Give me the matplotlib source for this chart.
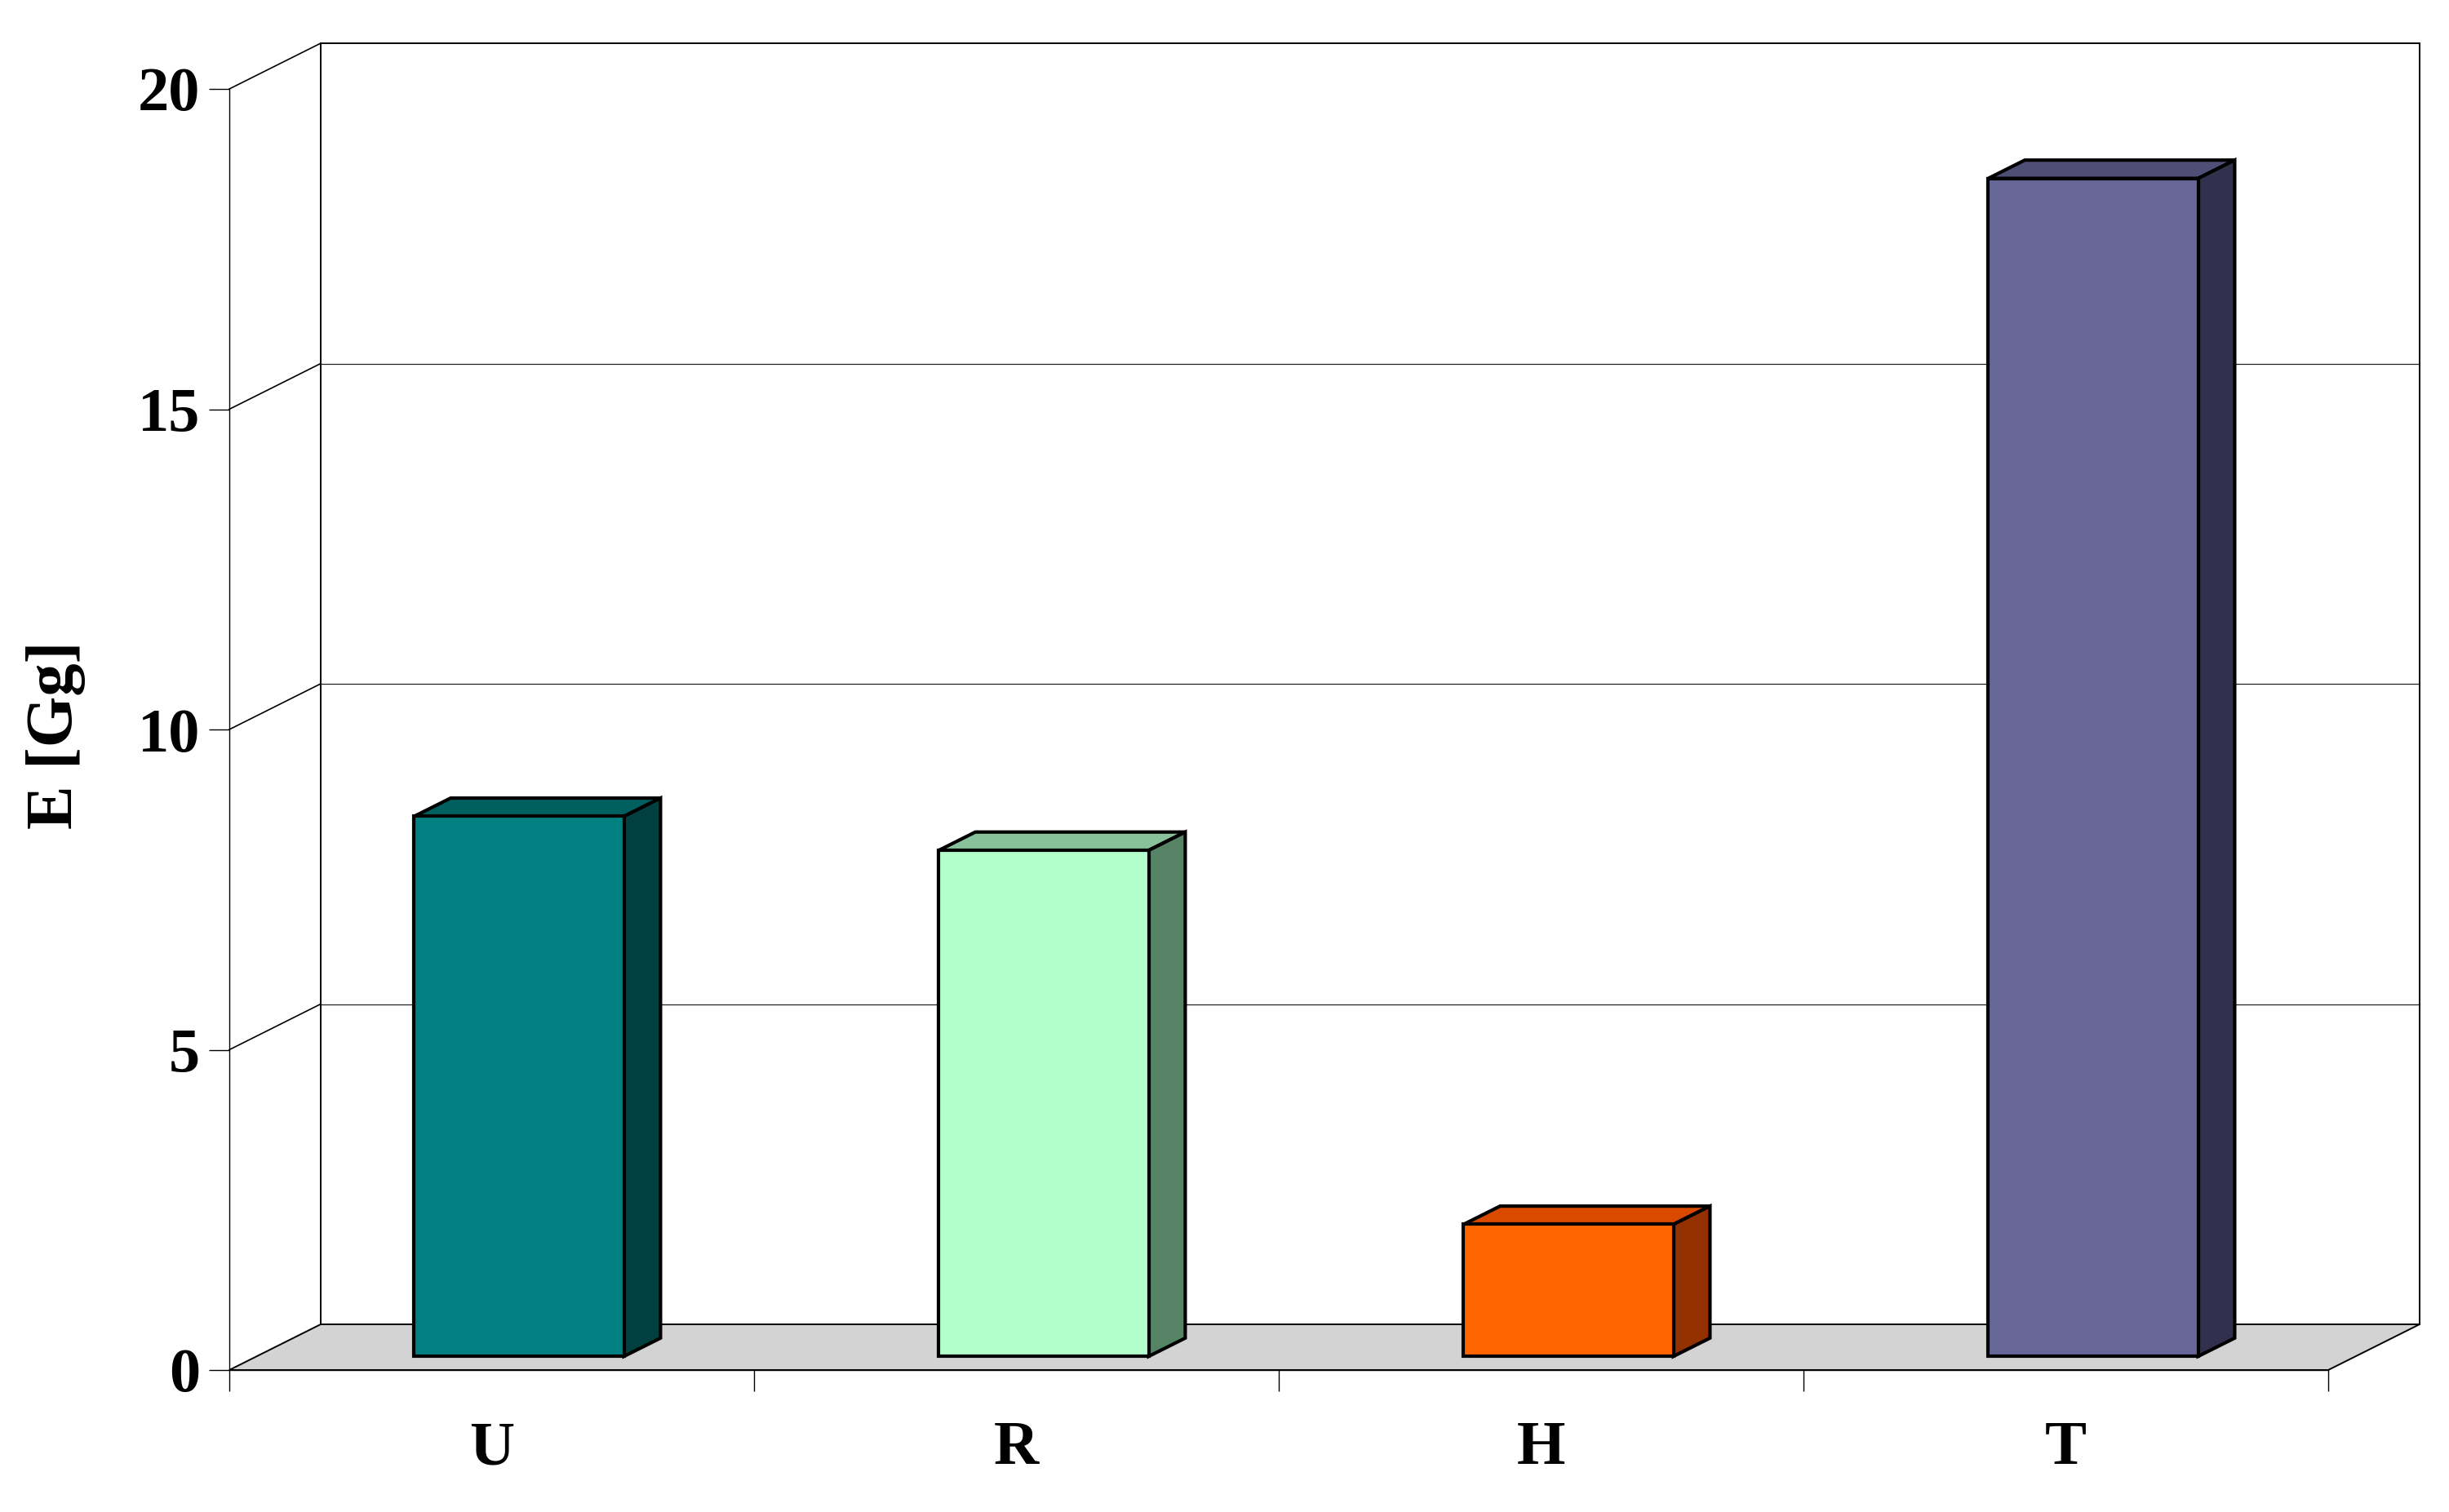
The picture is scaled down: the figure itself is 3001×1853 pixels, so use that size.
import matplotlib
matplotlib.use("Agg")
import matplotlib.pyplot as plt
from matplotlib.patches import Polygon, Rectangle

categories = ["U", "R", "H", "T"]
values = [8.43, 7.90, 2.06, 18.39]
face_colors = ["#008080", "#B3FFCC", "#FF6600", "#666699"]
top_colors = ["#006060", "#87C29A", "#D94A00", "#4F4F75"]
side_colors = ["#004040", "#568265", "#933000", "#31314D"]
yticks = [0, 5, 10, 15, 20]

# oblique depth offset of the whole floor, in data units
DX = 0.174
DY = 0.713
Z0, Z1 = 0.3, 0.7
BAR_W = 0.4

plt.rcParams["font.family"] = ["Liberation Serif", "DejaVu Serif"]
plt.rcParams["font.weight"] = "bold"

fig = plt.figure(figsize=(30.01, 18.53), dpi=100)
ax = fig.add_axes([281 / 3001, 174 / 1853, 2572 / 3001, 1570 / 1853])
n = len(categories)
ax.set_xlim(0, n)
ax.set_ylim(0, yticks[-1])

# floor and walls
ax.add_patch(Polygon([(0, 0), (n, 0), (n + DX, DY), (DX, DY)], closed=True,
                     facecolor="#D3D3D3", edgecolor="black", linewidth=1.4,
                     zorder=1, clip_on=False))
ax.add_patch(Rectangle((DX, DY), n, yticks[-1], facecolor="none",
                       edgecolor="black", linewidth=1.4, zorder=1.2,
                       clip_on=False))
for v in yticks[1:-1]:
    ax.plot([DX, n + DX], [v + DY, v + DY], color="#222222", linewidth=0.9,
            zorder=1.1, clip_on=False)
for v in yticks[1:]:
    ax.plot([0, DX], [v, v + DY], color="black", linewidth=1.2,
            zorder=1.1, clip_on=False)

# bars: front faces through ax.bar, top and side faces from each rectangle
x_front = [i + 0.5 + Z0 * DX for i in range(n)]
bars = ax.bar(x_front, values, width=BAR_W, bottom=Z0 * DY,
              color=face_colors, edgecolor="black", linewidth=3,
              zorder=5, clip_on=False)
d = Z1 - Z0
for rect, tc, sc in zip(bars, top_colors, side_colors):
    x0, y0 = rect.get_x(), rect.get_y()
    x1, y1 = x0 + rect.get_width(), y0 + rect.get_height()
    top = [(x0, y1), (x1, y1), (x1 + DX * d, y1 + DY * d), (x0 + DX * d, y1 + DY * d)]
    side = [(x1, y0), (x1 + DX * d, y0 + DY * d), (x1 + DX * d, y1 + DY * d), (x1, y1)]
    ax.add_patch(Polygon(top, closed=True, facecolor=tc, edgecolor="black",
                         linewidth=3, joinstyle="miter", zorder=4, clip_on=False))
    ax.add_patch(Polygon(side, closed=True, facecolor=sc, edgecolor="black",
                         linewidth=3, joinstyle="miter", zorder=4, clip_on=False))

# axes
for s in ("top", "right"):
    ax.spines[s].set_visible(False)
for s in ("left", "bottom"):
    ax.spines[s].set_linewidth(1.0)
ax.set_yticks(yticks)
ax.set_yticklabels([str(v) for v in yticks])
ax.tick_params(axis="y", direction="out", length=18, width=1.0, pad=8,
               labelsize=55)
ax.set_xticks(range(n + 1))
ax.set_xticklabels([])
ax.set_xticks([i + 0.5 for i in range(n)], minor=True)
ax.set_xticklabels(categories, minor=True)
ax.tick_params(axis="x", which="major", direction="out", length=19, width=1.0)
ax.tick_params(axis="x", which="minor", length=0, pad=45, labelsize=55)

ax.set_ylabel("E [Gg]", fontsize=58, fontweight="bold", va="center", ha="center")
ax.yaxis.set_label_coords(-0.0828, 0.496)

fig.savefig("out.png", dpi=100, facecolor="white")
